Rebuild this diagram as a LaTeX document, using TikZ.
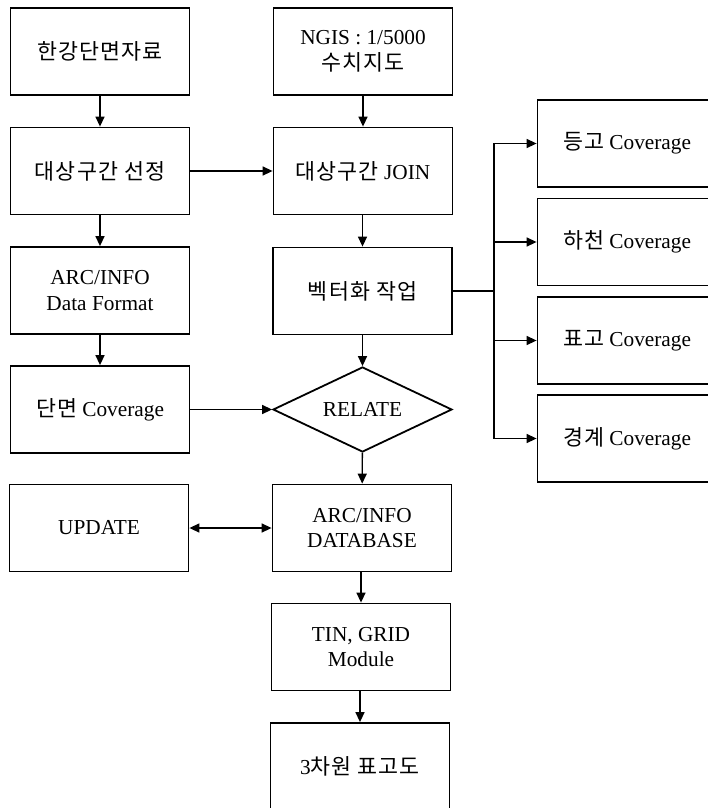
\documentclass[tikz,border=0pt]{standalone}
\usepackage{fontspec}
\setmainfont{Liberation Serif}
\newfontfamily\kr[Scale=1.02,LetterSpace=5]{Noto Sans CJK KR}
\usetikzlibrary{arrows.meta,shapes.geometric}
\begin{document}
\begin{tikzpicture}[x=1pt,y=-1pt,
  box/.style={draw, line width=1.8pt, minimum width=179pt, minimum height=87pt,
    inner sep=0pt, align=center, font=\fontsize{21.3}{25.5}\selectfont},
  dia/.style={draw, diamond, aspect=2, line width=1.8pt, minimum width=179pt,
    minimum height=85pt, inner sep=0pt, font=\fontsize{21.3}{25.5}\selectfont},
  conn/.style={line width=1.4pt, -{Triangle[length=10pt,width=9pt]}},
  conn2/.style={line width=1.4pt, {Triangle[length=10pt,width=9pt]}-{Triangle[length=10pt,width=9pt]}},
  plain/.style={line width=1.4pt}]
\useasboundingbox (0,0) rectangle (708,808);
\clip (0,0) rectangle (708,808);

% left column
\node[box] (A1) at (100,51.5) {{\kr 한강단면자료}};
\node[box] (A2) at (100,171) {{\kr 대상구간 선정}};
\node[box] (A3) at (100,290.5) {ARC/INFO\\Data Format};
\node[box] (A4) at (100,409.5) {{\kr 단면} Coverage};
\node[box] (A5) at (99,528) {UPDATE};

% middle column
\node[box] (B1) at (363,51.5) {NGIS : 1/5000\\{\kr 수치지도}};
\node[box] (B2) at (363,171) {{\kr 대상구간} JOIN};
\node[box] (B3) at (362.5,291) {{\kr 벡터화 작업}};
\node[dia] (B4) at (362.5,409.5) {RELATE};
\node[box] (B5) at (362,528) {ARC/INFO\\DATABASE};
\node[box] (B6) at (361,647) {TIN, GRID\\Module};
\node[box] (B7) at (360,766.5) {3{\kr 차원 표고도}};

% right column
\node[box] (C1) at (627,143.5) {{\kr 등고} Coverage};
\node[box] (C2) at (627,242) {{\kr 하천} Coverage};
\node[box] (C3) at (627,340.5) {{\kr 표고} Coverage};
\node[box] (C4) at (627,438.5) {{\kr 경계} Coverage};

\coordinate (bx) at (494,291);

% connectors left
\draw[conn] (A1) -- (A2);
\draw[conn] (A2) -- (A3);
\draw[conn] (A3) -- (A4);
% middle
\draw[conn] (B1.south -| B2.north) -- (B2.north);
\draw[conn] (B2.south -| B3.north) -- (B3.north);
\draw[conn] (B3) -- (B4);
\draw[conn] (B4) -- (B5);
\draw[conn] (B5.south -| B6.north) -- (B6.north);
\draw[conn] (B6.south -| B7.north) -- (B7.north);
% horizontal
\draw[conn] (A2) -- (B2);
\draw[conn] (A4) -- (B4);
\draw[conn2] (A5) -- (B5);
% branch
\draw[plain] (B3.east) -- (bx);
\draw[conn] (bx) |- (C1.west);
\draw[conn] (bx) |- (C2.west);
\draw[conn] (bx) |- (C3.west);
\draw[conn] (bx) |- (C4.west);
\end{tikzpicture}
\end{document}
